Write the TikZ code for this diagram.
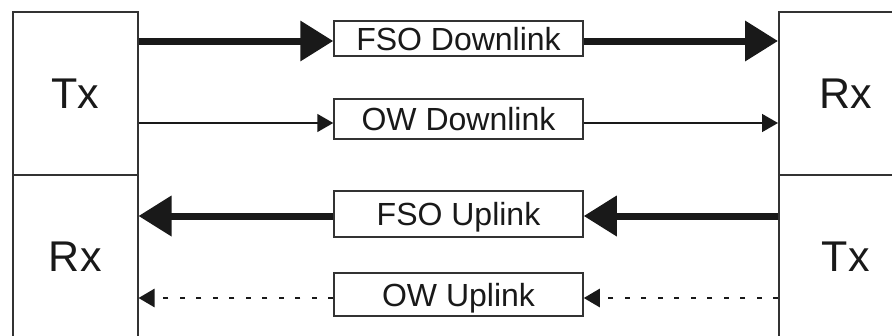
\documentclass[tikz,border=0pt]{standalone}
\usepackage{fontspec}
\setmainfont{Liberation Sans}
\usetikzlibrary{arrows.meta}
\begin{document}
\begin{tikzpicture}[x=1pt,y=-1pt,
  unit/.style={draw=black!80, line width=1.5pt, minimum height=163pt, inner sep=0pt,
    anchor=north west, font=\fontsize{43}{48}\selectfont, text=black!90},
  linkbox/.style={draw=black!80, fill=white, line width=1.5pt, minimum width=249pt, inner sep=0pt,
    font=\fontsize{32}{36}\selectfont, text height=23pt, text depth=0pt, text=black!90},
  thickarrow/.style={draw=black!90, line width=7pt, -{Triangle[length=33pt,width=39pt]}},
  thinarrow/.style={draw=black!90, line width=1.5pt, -{Triangle[length=16pt,width=18pt]}},
  dasharrow/.style={draw=black!90, line width=2.6pt, dash pattern=on 5pt off 11.5pt, -{Triangle[length=16pt,width=18pt]}}
]
\useasboundingbox (0,0) rectangle (892,335);
\clip (0,0) rectangle (892,335);
\fill[white] (0,0) rectangle (892,335);

\node[unit, minimum width=125pt] (lt) at (12,11) {Tx};
\node[unit, minimum width=125pt] (lb) at (12,174) {Rx};
\node[unit, minimum width=134pt] (rt) at (778,11) {Rx};
\node[unit, minimum width=134pt] (rb) at (778,174) {Tx};

\node[linkbox, minimum height=35pt] (fsod) at (458.5,38.5) {FSO Downlink};
\node[linkbox, minimum height=40pt] (owd) at (458.5,119) {OW Downlink};
\node[linkbox, minimum height=46pt] (fsou) at (458.5,214) {FSO Uplink};
\node[linkbox, minimum height=43pt] (owu) at (458.5,294.5) {OW Uplink};

\coordinate (y1) at (0,41);
\coordinate (y2) at (0,123);
\coordinate (y3) at (0,216);
\coordinate (y4) at (0,298);

\draw[thickarrow] (lt.east |- y1) -- (fsod.west |- y1);
\draw[thickarrow] (fsod.east |- y1) -- (rt.west |- y1);
\draw[thinarrow] (lt.east |- y2) -- (owd.west |- y2);
\draw[thinarrow] (owd.east |- y2) -- (rt.west |- y2);
\draw[thickarrow] (rb.west |- y3) -- (fsou.east |- y3);
\draw[thickarrow] (fsou.west |- y3) -- (lb.east |- y3);
\draw[dasharrow] (rb.west |- y4) -- (owu.east |- y4);
\draw[dasharrow] (owu.west |- y4) -- (lb.east |- y4);
\end{tikzpicture}
\end{document}
